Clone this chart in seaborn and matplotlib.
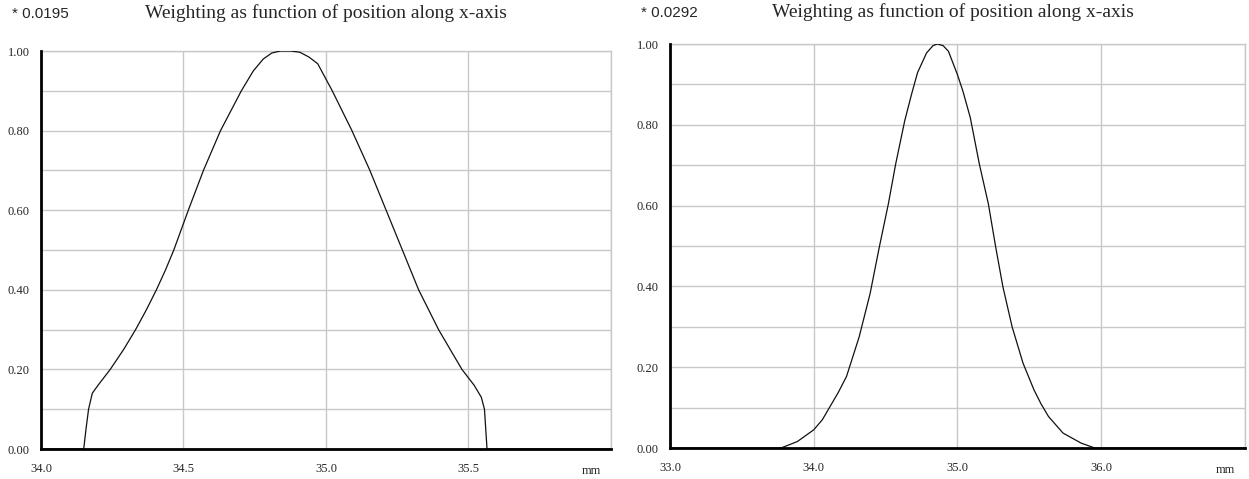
import numpy as np
import pandas as pd
import seaborn as sns
import matplotlib.pyplot as plt
from matplotlib.ticker import MultipleLocator

# Weighting curves (x in mm, weight normalised to 1)
x_left = [34.0, 34.15, 34.158, 34.167, 34.18, 34.2, 34.243, 34.29, 34.332, 34.37, 34.405,
          34.437, 34.466, 34.517, 34.570, 34.630, 34.703, 34.745, 34.78, 34.81, 34.84, 34.876,
          34.908, 34.94, 34.971, 35.022, 35.091, 35.154, 35.211, 35.268, 35.325,
          35.395, 35.44, 35.477, 35.52, 35.545, 35.556, 35.565, 36.0]
y_left = [0.0, 0.0, 0.05, 0.10, 0.14, 0.16, 0.20, 0.25, 0.30, 0.35, 0.40,
          0.45, 0.50, 0.60, 0.70, 0.80, 0.90, 0.95, 0.98, 0.995, 1.0, 1.0,
          0.997, 0.985, 0.968, 0.90, 0.80, 0.70, 0.60, 0.50, 0.40,
          0.30, 0.245, 0.20, 0.16, 0.13, 0.10, 0.0, 0.0]

x_right = [33.0, 33.772, 33.886, 34.0, 34.06, 34.114, 34.17, 34.228, 34.316, 34.392, 34.456,
           34.519, 34.570, 34.633, 34.68, 34.722, 34.785, 34.83, 34.861, 34.90, 34.937,
           35.0, 35.038, 35.089, 35.152, 35.215, 35.266, 35.316, 35.380, 35.456,
           35.532, 35.58, 35.633, 35.734, 35.861, 35.955, 37.0]
y_right = [0.0, 0.0, 0.016, 0.045, 0.07, 0.103, 0.137, 0.177, 0.275, 0.382, 0.497,
           0.604, 0.703, 0.810, 0.875, 0.929, 0.978, 0.996, 1.0, 0.996, 0.982,
           0.924, 0.883, 0.818, 0.703, 0.604, 0.497, 0.399, 0.300, 0.210,
           0.144, 0.11, 0.078, 0.037, 0.012, 0.0, 0.0]

scale_labels = ["* 0.0195", "* 0.0292"]
title = "Weighting as function of position along x-axis"
x_limits = [(34.0, 36.0), (33.0, 37.0)]
x_ticks = [[34.0, 34.5, 35.0, 35.5], [33.0, 34.0, 35.0, 36.0]]

sns.set_style("white")
plt.rcParams['font.family'] = ['Liberation Serif', 'DejaVu Serif']

fig = plt.figure(figsize=(12.49, 4.79), dpi=100)
ax_left = fig.add_axes([0.0328, 0.0626, 0.4564, 0.8309])
ax_right = fig.add_axes([0.5364, 0.0647, 0.4604, 0.8434])

grid_col = "#c8c8c8"
title_y = [1.083, 1.067]
for i, (ax, xs, ys) in enumerate([(ax_left, x_left, y_left), (ax_right, x_right, y_right)]):
    df = pd.DataFrame({"x": xs, "y": ys})
    sns.lineplot(data=df, x="x", y="y", ax=ax, color="#111111", linewidth=0.9, zorder=3)
    ax.set_xlim(*x_limits[i])
    ax.set_ylim(0, 1.0)
    ax.xaxis.set_major_locator(plt.FixedLocator(x_ticks[i] + [x_limits[i][1]]))
    ax.set_xticklabels([f"{t:.1f}" for t in x_ticks[i]] + [""])
    ax.yaxis.set_major_locator(MultipleLocator(0.2))
    ax.yaxis.set_minor_locator(MultipleLocator(0.1))
    ax.yaxis.set_major_formatter(lambda v, p: f"{v:.2f}")
    ax.grid(True, which="both", color=grid_col, linewidth=1.0)
    ax.set_axisbelow(True)
    ax.tick_params(which="both", length=0, labelsize=9, pad=8)
    ax.tick_params(axis="x", pad=10)
    ax.set_xlabel("")
    ax.set_ylabel("")
    for side in ["top", "right"]:
        ax.spines[side].set_color(grid_col)
        ax.spines[side].set_linewidth(1.0)
    for side in ["left", "bottom"]:
        ax.spines[side].set_color("black")
        ax.spines[side].set_linewidth(2.0)
        ax.spines[side].set_zorder(4)
    ax.text(0.966, -0.055, "mm", transform=ax.transAxes, fontsize=9,
            ha="center", va="center")
    ax.text(-0.051, title_y[i], scale_labels[i], transform=ax.transAxes,
            fontsize=11, family=['Liberation Sans', 'DejaVu Sans'], ha="left", va="baseline")
    ax.text(0.5 if i == 0 else 0.492, title_y[i], title, transform=ax.transAxes,
            fontsize=14, ha="center", va="baseline")

fig.savefig("out.png", dpi=100)
